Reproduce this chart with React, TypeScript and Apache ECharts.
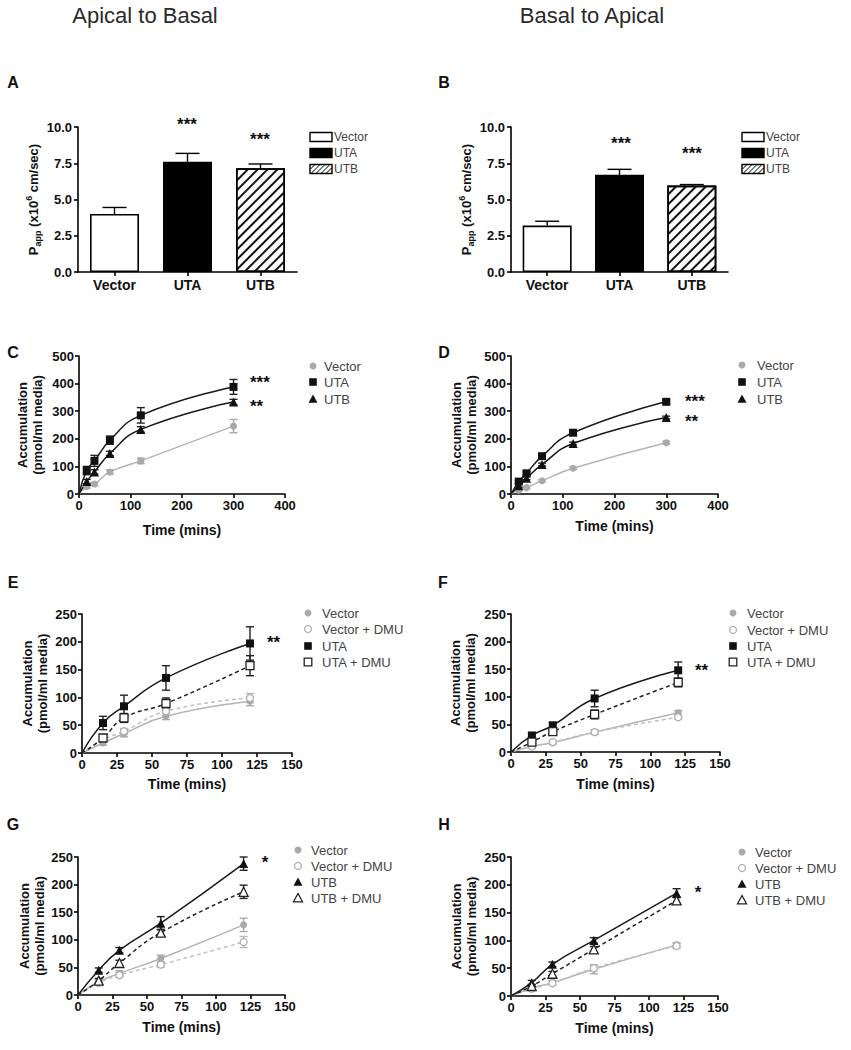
import React, { useEffect, useRef } from "react";
import * as echarts from "echarts";

const FONT = '"Liberation Sans", Arial, Helvetica, sans-serif';

// ---------------- data ----------------
const barCategories = ["Vector", "UTA", "UTB"];
const pappA = [4.0, 7.6, 7.15];
const pappAErr = [0.45, 0.58, 0.3];
const pappB = [3.2, 6.7, 5.96];
const pappBErr = [0.3, 0.38, 0.07];
const pappTicks = { min: 0, max: 10, step: 2.5 };

const timeLong = [0, 15, 30, 60, 120, 300];
const cVector = [0, 26, 36, 80, 120, 246];
const cVectorErr = [0, 5, 6, 8, 10, 24];
const cUTA = [0, 85, 120, 195, 285, 388];
const cUTAErr = [0, 15, 20, 15, 28, 27];
const cUTB = [0, 45, 80, 147, 234, 333];
const cUTBErr = [0, 8, 8, 8, 10, 10];

const dVector = [0, 14, 23, 48, 93, 186];
const dVectorErr = [0, 3, 3, 4, 4, 5];
const dUTA = [0, 45, 75, 137, 222, 334];
const dUTAErr = [0, 5, 6, 6, 6, 6];
const dUTB = [0, 30, 57, 107, 183, 277];
const dUTBErr = [0, 5, 5, 5, 5, 5];

const timeShort = [0, 15, 30, 60, 120];
const eVector = [0, 18, 35, 66, 93];
const eVectorErr = [0, 4, 6, 6, 8];
const eVectorDMU = [0, 24, 39, 75, 99];
const eVectorDMUErr = [0, 5, 5, 8, 8];
const eUTA = [0, 54, 84, 135, 197];
const eUTAErr = [0, 12, 20, 22, 30];
const eUTADMU = [0, 27, 63, 89, 157];
const eUTADMUErr = [0, 6, 8, 10, 18];

const fVector = [0, 10, 17, 36, 71];
const fVectorErr = [0, 2, 3, 4, 4];
const fVectorDMU = [0, 10, 18, 36, 63];
const fVectorDMUErr = [0, 2, 3, 3, 3];
const fUTA = [0, 30, 48, 97, 148];
const fUTAErr = [0, 5, 6, 15, 15];
const fUTADMU = [0, 18, 37, 68, 126];
const fUTADMUErr = [0, 4, 5, 8, 8];

const gVector = [0, 24, 39, 66, 127];
const gVectorErr = [0, 4, 5, 6, 12];
const gVectorDMU = [0, 22, 36, 55, 96];
const gVectorDMUErr = [0, 4, 4, 5, 10];
const gUTB = [0, 45, 81, 130, 238];
const gUTBErr = [0, 4, 5, 12, 12];
const gUTBDMU = [0, 26, 58, 113, 187];
const gUTBDMUErr = [0, 4, 5, 6, 12];

const hVector = [0, 14, 24, 48, 92];
const hVectorErr = [0, 3, 4, 8, 4];
const hVectorDMU = [0, 13, 23, 50, 90];
const hVectorDMUErr = [0, 3, 3, 5, 4];
const hUTB = [0, 24, 57, 100, 185];
const hUTBErr = [0, 4, 4, 5, 8];
const hUTBDMU = [0, 18, 40, 84, 172];
const hUTBDMUErr = [0, 3, 4, 5, 6];

const longAxis = { xMax: 400, xStep: 100, yMax: 500, yStep: 100 };
const shortAxis = { xMax: 150, xStep: 25, yMax: 250, yStep: 50 };

const headings = ["Apical to Basal", "Basal to Apical"];
const panelLetters = ["A", "B", "C", "D", "E", "F", "G", "H"];
const starsText = { A: ["***", "***"], B: ["***", "***"], C: ["***", "**"], D: ["***", "**"], E: ["**"], F: ["**"], G: ["*"], H: ["*"] };

// ---------------- styles ----------------
type Key = "vector" | "vectorDMU" | "uta" | "utaDMU" | "utb" | "utbDMU";
const STY: Record<Key, any> = {
  vector: { symbol: "circle", size: 7, fill: "#a9a9a9", stroke: "#a9a9a9", line: "#b4b4b4", dash: false, err: "#a9a9a9" },
  vectorDMU: { symbol: "circle", size: 7, fill: "#ffffff", stroke: "#b0b0b0", line: "#c0c0c0", dash: true, err: "#b8b8b8" },
  uta: { symbol: "rect", size: 8, fill: "#111111", stroke: "#111111", line: "#1a1a1a", dash: false, err: "#222222" },
  utaDMU: { symbol: "rect", size: 8, fill: "#ffffff", stroke: "#222222", line: "#222222", dash: true, err: "#222222" },
  utb: { symbol: "triangle", size: 9, fill: "#111111", stroke: "#111111", line: "#1a1a1a", dash: false, err: "#222222" },
  utbDMU: { symbol: "triangle", size: 9, fill: "#ffffff", stroke: "#222222", line: "#222222", dash: true, err: "#222222" },
};

const grids = [
  { left: 78, top: 127, width: 219, height: 145 },
  { left: 511, top: 127, width: 217, height: 145 },
  { left: 79, top: 356, width: 206, height: 138 },
  { left: 511, top: 356, width: 207, height: 138 },
  { left: 82, top: 614, width: 210, height: 139 },
  { left: 511, top: 614, width: 209, height: 138 },
  { left: 78, top: 857, width: 207, height: 138 },
  { left: 511, top: 857, width: 207, height: 139 },
];

const axisLine = { show: true, lineStyle: { color: "#000", width: 1.6 } };
const axisTick = { show: true, length: 4, lineStyle: { color: "#000", width: 1.6 } };
const tickLabel = { color: "#111", fontFamily: FONT, fontWeight: "bold", fontSize: 13 };

function errSeries(g: number, xs: any[], vals: number[], errs: number[], color: string, cap: number, upOnly: boolean) {
  const data = xs.map((x, i) => [x, vals[i], errs[i]]).filter((d) => d[2] > 0);
  return {
    type: "custom",
    xAxisIndex: g,
    yAxisIndex: g,
    z: 2,
    silent: true,
    encode: { x: 0, y: 1 },
    data,
    renderItem: (params: any, api: any) => {
      const x = api.value(0);
      const y = api.value(1);
      const e = api.value(2);
      const top = api.coord([x, y + e]);
      const bot = api.coord([x, upOnly ? y : y - e]);
      const st = { stroke: color, lineWidth: 1.4 };
      const children: any[] = [
        { type: "line", shape: { x1: top[0], y1: top[1], x2: bot[0], y2: bot[1] }, style: st },
        { type: "line", shape: { x1: top[0] - cap, y1: top[1], x2: top[0] + cap, y2: top[1] }, style: st },
      ];
      if (!upOnly) children.push({ type: "line", shape: { x1: bot[0] - cap, y1: bot[1], x2: bot[0] + cap, y2: bot[1] }, style: st });
      return { type: "group", children };
    },
  };
}

function lineSeries(g: number, name: string, key: Key, times: number[], vals: number[]) {
  const st = STY[key];
  return {
    type: "line",
    name,
    xAxisIndex: g,
    yAxisIndex: g,
    z: 3,
    silent: true,
    smooth: 0.5,
    symbol: st.symbol,
    symbolSize: st.size,
    itemStyle: { color: st.fill, borderColor: st.stroke, borderWidth: st.fill === "#ffffff" ? 1.3 : 0 },
    lineStyle: { color: st.line, width: 1.5, type: st.dash ? [4, 3] : "solid" },
    data: times.map((t, i) => (t === 0 ? { value: [t, vals[i]], symbol: "none" } : [t, vals[i]])),
  };
}

function legendSymbol(key: Key, cx: number, cy: number) {
  const st = STY[key];
  const style = { fill: st.fill, stroke: st.stroke, lineWidth: st.fill === "#ffffff" ? 1.3 : 0 };
  if (st.symbol === "circle") return { type: "circle", shape: { cx, cy, r: 3.5 }, style };
  if (st.symbol === "rect") return { type: "rect", shape: { x: cx - 3.8, y: cy - 3.8, width: 7.6, height: 7.6 }, style };
  return { type: "polygon", shape: { points: [[cx, cy - 4.5], [cx + 4.5, cy + 3.8], [cx - 4.5, cy + 3.8]] }, style };
}

function lineLegend(mx: number, tx: number, ys: number[], keys: Key[], names: string[]) {
  const els: any[] = [];
  keys.forEach((k, i) => {
    els.push(legendSymbol(k, mx, ys[i]));
    els.push({ type: "text", x: tx, y: ys[i], style: { text: names[i], fontSize: 13, fontFamily: FONT, fill: "#444", align: "left", verticalAlign: "middle" } });
  });
  return els;
}

function hatchLines(x0: number, y0: number, w: number, h: number, step: number) {
  const els: any[] = [];
  for (let xb = x0 - h; xb < x0 + w; xb += step) {
    let sx = xb, sy = y0 + h, ex = xb + h, ey = y0;
    if (sx < x0) { sy -= x0 - sx; sx = x0; }
    if (ex > x0 + w) { ey += ex - (x0 + w); ex = x0 + w; }
    if (ex > sx) els.push({ type: "line", shape: { x1: sx, y1: sy, x2: ex, y2: ey }, style: { stroke: "#000", lineWidth: 1 } });
  }
  return els;
}

function barLegend(bx: number, tx: number, ys: number[]) {
  const els: any[] = [];
  const w = 22, h = 9;
  ys.forEach((y, i) => {
    const y0 = y - h / 2;
    els.push({ type: "rect", shape: { x: bx, y: y0, width: w, height: h }, style: { fill: i === 1 ? "#000" : "#fff", stroke: "#000", lineWidth: 1.4 } });
    if (i === 2) els.push(...hatchLines(bx, y0, w, h, 5));
    els.push({ type: "text", x: tx, y, style: { text: barCategories[i], fontSize: 12, fontFamily: FONT, fill: "#444", align: "left", verticalAlign: "middle" } });
  });
  return els;
}

const decalHatch = {
  symbol: "rect",
  symbolSize: 1,
  dashArrayX: [1, 0],
  dashArrayY: [1.2, 4.3],
  rotation: -Math.PI / 4,
  color: "#111",
};

function barItemStyles() {
  return [
    { color: "#fff", borderColor: "#000", borderWidth: 1.6 },
    { color: "#000", borderColor: "#000", borderWidth: 1.6 },
    { color: "#fff", borderColor: "#000", borderWidth: 1.6, decal: decalHatch },
  ];
}

const pappName = "{b|P}{s|app}{b| (x10}{p|6}{b| cm/sec)}";
const pappRich = {
  b: { fontSize: 13, fontWeight: "bold", fontFamily: FONT, color: "#111", lineHeight: 18 },
  s: { fontSize: 9, fontWeight: "bold", fontFamily: FONT, color: "#111", verticalAlign: "bottom" },
  p: { fontSize: 9, fontWeight: "bold", fontFamily: FONT, color: "#111", verticalAlign: "top" },
};

function buildOption() {
  const xAxis: any[] = [];
  const yAxis: any[] = [];
  const series: any[] = [];
  const graphic: any[] = [];

  // ---- bar panels A, B ----
  const barSets = [
    { vals: pappA, errs: pappAErr, nameGap: 36 },
    { vals: pappB, errs: pappBErr, nameGap: 34 },
  ];
  barSets.forEach((b, g) => {
    xAxis.push({
      type: "category",
      gridIndex: g,
      data: barCategories,
      axisLine,
      axisTick: { ...axisTick, alignWithLabel: true },
      axisLabel: { ...tickLabel, fontSize: 14, margin: 6 },
    });
    yAxis.push({
      type: "value",
      gridIndex: g,
      min: pappTicks.min,
      max: pappTicks.max,
      interval: pappTicks.step,
      axisLine,
      axisTick,
      splitLine: { show: false },
      axisLabel: { ...tickLabel, margin: 6, formatter: (v: number) => v.toFixed(1) },
      name: pappName,
      nameLocation: "middle",
      nameGap: b.nameGap,
      nameTextStyle: { rich: pappRich },
    });
    const styles = barItemStyles();
    series.push({
      type: "bar",
      xAxisIndex: g,
      yAxisIndex: g,
      barWidth: 49,
      silent: true,
      z: 2,
      data: b.vals.map((v, i) => ({ value: v, itemStyle: styles[i] })),
    });
    series.push(errSeries(g, barCategories.map((_, i) => i), b.vals, b.errs, "#000", 12, true));
  });

  // ---- line panels ----
  const linePanels = [
    { g: 2, times: timeLong, ax: longAxis, xGap: 29, set: [["Vector", "vector", cVector, cVectorErr], ["UTA", "uta", cUTA, cUTAErr], ["UTB", "utb", cUTB, cUTBErr]] },
    { g: 3, times: timeLong, ax: longAxis, xGap: 25, set: [["Vector", "vector", dVector, dVectorErr], ["UTA", "uta", dUTA, dUTAErr], ["UTB", "utb", dUTB, dUTBErr]] },
    { g: 4, times: timeShort, ax: shortAxis, xGap: 24, set: [["Vector", "vector", eVector, eVectorErr], ["Vector + DMU", "vectorDMU", eVectorDMU, eVectorDMUErr], ["UTA", "uta", eUTA, eUTAErr], ["UTA + DMU", "utaDMU", eUTADMU, eUTADMUErr]] },
    { g: 5, times: timeShort, ax: shortAxis, xGap: 25, set: [["Vector", "vector", fVector, fVectorErr], ["Vector + DMU", "vectorDMU", fVectorDMU, fVectorDMUErr], ["UTA", "uta", fUTA, fUTAErr], ["UTA + DMU", "utaDMU", fUTADMU, fUTADMUErr]] },
    { g: 6, times: timeShort, ax: shortAxis, xGap: 25, set: [["Vector", "vector", gVector, gVectorErr], ["Vector + DMU", "vectorDMU", gVectorDMU, gVectorDMUErr], ["UTB", "utb", gUTB, gUTBErr], ["UTB + DMU", "utbDMU", gUTBDMU, gUTBDMUErr]] },
    { g: 7, times: timeShort, ax: shortAxis, xGap: 25, set: [["Vector", "vector", hVector, hVectorErr], ["Vector + DMU", "vectorDMU", hVectorDMU, hVectorDMUErr], ["UTB", "utb", hUTB, hUTBErr], ["UTB + DMU", "utbDMU", hUTBDMU, hUTBDMUErr]] },
  ];
  const yGaps = [34, 32, 32, 33, 31, 32];
  linePanels.forEach((p, idx) => {
    xAxis.push({
      type: "value",
      gridIndex: p.g,
      min: 0,
      max: p.ax.xMax,
      interval: p.ax.xStep,
      axisLine,
      axisTick,
      splitLine: { show: false },
      axisLabel: { ...tickLabel, margin: 5 },
      name: "Time (mins)",
      nameLocation: "middle",
      nameGap: p.xGap,
      nameTextStyle: { fontFamily: FONT, fontWeight: "bold", fontSize: 14, color: "#111" },
    });
    yAxis.push({
      type: "value",
      gridIndex: p.g,
      min: 0,
      max: p.ax.yMax,
      interval: p.ax.yStep,
      axisLine,
      axisTick,
      splitLine: { show: false },
      axisLabel: { ...tickLabel, margin: 5 },
      name: "Accumulation\n(pmol/ml media)",
      nameLocation: "middle",
      nameGap: yGaps[idx],
      nameTextStyle: { fontFamily: FONT, fontWeight: "bold", fontSize: 13, lineHeight: 15, color: "#111" },
    });
    p.set.forEach((s: any) => {
      const [, key, vals, errs] = s;
      series.push(errSeries(p.g, p.times, vals, errs, STY[key as Key].err, 4, false));
    });
    p.set.forEach((s: any) => {
      const [name, key, vals] = s;
      series.push(lineSeries(p.g, name, key, p.times, vals));
    });
  });

  // ---- texts ----
  const hStyle = { fontSize: 22, fontFamily: FONT, fill: "#2a2a2a", align: "center", verticalAlign: "middle" };
  graphic.push({ type: "text", x: 145, y: 15, style: { ...hStyle, text: headings[0] } });
  graphic.push({ type: "text", x: 592, y: 15, style: { ...hStyle, text: headings[1] } });

  const letterPos = [[13, 82], [444, 82], [13, 352], [444, 352], [13, 582], [443, 582], [13, 824], [444, 824]];
  panelLetters.forEach((l, i) => {
    graphic.push({ type: "text", x: letterPos[i][0], y: letterPos[i][1], style: { text: l, fontSize: 16, fontWeight: "bold", fontFamily: FONT, fill: "#111", align: "center", verticalAlign: "middle" } });
  });

  const starStyle = { fontSize: 17, fontWeight: "bold", fontFamily: FONT, fill: "#111", verticalAlign: "middle" };
  const starList: [string, number, number, string][] = [
    [starsText.A[0], 187, 124, "center"],
    [starsText.A[1], 260, 139, "center"],
    [starsText.B[0], 621, 143, "center"],
    [starsText.B[1], 692, 153, "center"],
    [starsText.C[0], 250, 382, "left"],
    [starsText.C[1], 250, 406, "left"],
    [starsText.D[0], 685, 401, "left"],
    [starsText.D[1], 685, 421, "left"],
    [starsText.E[0], 267, 642, "left"],
    [starsText.F[0], 695, 670, "left"],
    [starsText.G[0], 265, 862, "center"],
    [starsText.H[0], 698, 892, "center"],
  ];
  starList.forEach(([t, x, y, a]) => graphic.push({ type: "text", x, y, style: { ...starStyle, text: t, align: a } }));

  // ---- legends ----
  graphic.push(...barLegend(310, 334, [137, 153, 169]));
  graphic.push(...barLegend(742, 766, [137, 153, 169]));
  graphic.push(...lineLegend(313, 324, [366, 382, 399], ["vector", "uta", "utb"], ["Vector", "UTA", "UTB"]));
  graphic.push(...lineLegend(742, 757, [365, 382, 399], ["vector", "uta", "utb"], ["Vector", "UTA", "UTB"]));
  graphic.push(...lineLegend(308, 322, [613, 629, 646, 662], ["vector", "vectorDMU", "uta", "utaDMU"], ["Vector", "Vector + DMU", "UTA", "UTA + DMU"]));
  graphic.push(...lineLegend(733, 747, [613, 630, 646, 662], ["vector", "vectorDMU", "uta", "utaDMU"], ["Vector", "Vector + DMU", "UTA", "UTA + DMU"]));
  graphic.push(...lineLegend(298, 311, [850, 866, 882, 898], ["vector", "vectorDMU", "utb", "utbDMU"], ["Vector", "Vector + DMU", "UTB", "UTB + DMU"]));
  graphic.push(...lineLegend(742, 755, [852, 868, 884, 900], ["vector", "vectorDMU", "utb", "utbDMU"], ["Vector", "Vector + DMU", "UTB", "UTB + DMU"]));

  return {
    animation: false,
    backgroundColor: "#ffffff",
    textStyle: { fontFamily: FONT },
    grid: grids.map((g) => ({ ...g, containLabel: false })),
    xAxis,
    yAxis,
    series,
    graphic: { elements: graphic },
  };
}

export default function App() {
  const ref = useRef<HTMLDivElement>(null);
  useEffect(() => {
    if (!ref.current) return;
    const chart = echarts.init(ref.current, null, { renderer: "svg" });
    chart.setOption(buildOption() as any);
    return () => chart.dispose();
  }, []);
  return <div ref={ref} style={{ position: "absolute", left: 0, top: 0, width: 851, height: 1050, background: "#fff" }} />;
}
